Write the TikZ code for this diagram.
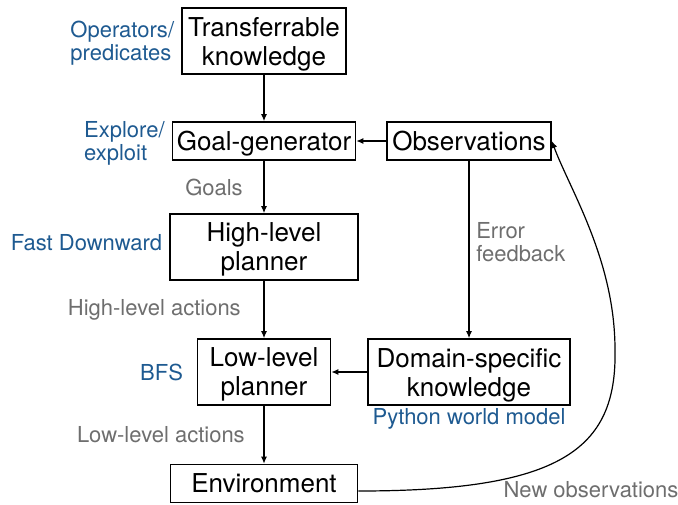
\documentclass[tikz,border=0pt]{standalone}
\usepackage{fontspec}
\setmainfont{TeX Gyre Heros}
\usepackage{xcolor}
\usetikzlibrary{arrows.meta, positioning}
\definecolor{toolblue}{RGB}{30,90,145}
\definecolor{notegray}{RGB}{110,110,110}

\begin{document}
\begin{tikzpicture}[
    x=0.5pt, y=-0.5pt,
    box/.style={rectangle, draw, line width=0.8pt, inner sep=0pt, minimum height=33pt, align=center, text depth=0pt, font=\fontsize{13}{14.5}\selectfont},
    slim/.style={box, minimum height=19pt},
    tool/.style={align=left, text=toolblue, font=\fontsize{11}{11.5}\selectfont},
    note/.style={text=notegray, font=\fontsize{11}{11.5}\selectfont},
    arrow/.style={-{Latex[length=3.5pt, width=3pt]}, line width=0.6pt}
]
\useasboundingbox (0,0) rectangle (678,504);

% Main nodes
\node[box, minimum width=82pt] (TK) at (264,41) {Transferrable\\knowledge};
\node[slim, minimum width=91.5pt] (GG) at (264,141) {Goal-generator};
\node[slim, minimum width=82pt] (OB) at (469,141) {Observations};
\node[box, minimum width=94pt] (HL) at (264,247) {High-level\\planner};
\node[box, minimum width=66.5pt] (LL) at (264,372) {Low-level\\planner};
\node[box, minimum width=101pt] (DS) at (469,372) {Domain-specific\\knowledge};
\node[slim, minimum width=93.5pt] (EN) at (264,483.5) {Environment};

% Tool labels
\node[tool, left=0pt of TK, yshift=-1pt] (OP) {Operators/\\predicates};
\node[tool, left=0pt of GG, yshift=-1pt] (EX) {Explore/\\exploit};
\node[tool, left=0pt of HL, yshift=2pt] (FD) {Fast Downward};
\node[tool, left=3.3pt of LL] (BF) {BFS};
\node[tool, below=-2pt of DS] (PW) {Python world model};

% Arrows
\draw[arrow] (TK) -- (GG);
\draw[arrow] (GG) -- (HL) node[note, midway, left=7pt] {Goals};
\draw[arrow] (HL) -- (LL) node[note, midway, left=8pt] {High-level actions};
\draw[arrow] (LL) -- (EN) node[note, midway, left=6pt] {Low-level actions};
\draw[arrow] (OB) -- (GG);
\draw[arrow] (DS) -- (LL);
\draw[arrow] (OB) -- (DS) node[note, pos=0.46, right=0pt, align=left] {Error\\feedback};

% Feedback loop
\draw[arrow] ([yshift=-3.75pt]EN.east) .. controls (560,491) and (617,450) .. (615,350)
    .. controls (615,260) and (570,190) .. (OB.east);
\node[note] (NO) at (591,490) {New observations};

\end{tikzpicture}
\end{document}
